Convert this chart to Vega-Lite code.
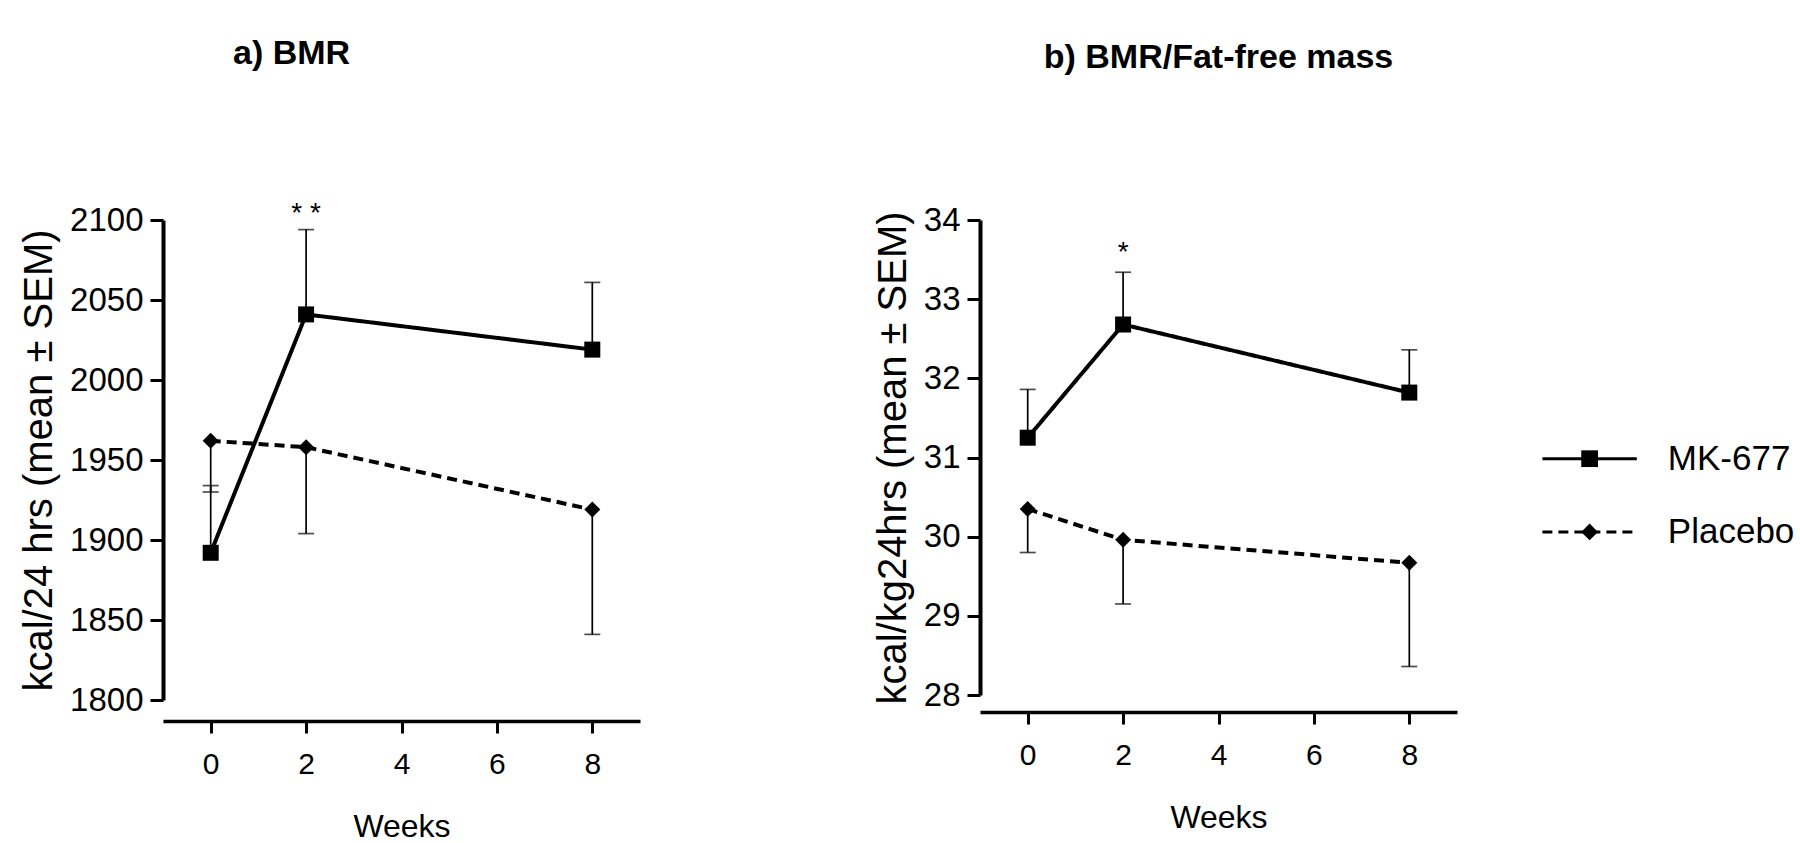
{
  "$schema": "https://vega.github.io/schema/vega-lite/v6.json",
  "background": "white",
  "padding": {"left": 19, "top": 36, "right": 0, "bottom": 0},
  "spacing": 233,
  "config": {
    "view": {"stroke": null},
    "axis": {"grid": false, "domainColor": "black", "tickColor": "black", "labelColor": "black", "titleColor": "black", "labelFont": "Liberation Sans", "titleFont": "Liberation Sans", "titleFontWeight": "normal"}
  },
  "datasets": {
    "bmr": [
      {"week": 0, "group": "MK-677", "mean": 1892, "err": 1934},
      {"week": 2, "group": "MK-677", "mean": 2041, "err": 2094},
      {"week": 8, "group": "MK-677", "mean": 2019, "err": 2061},
      {"week": 0, "group": "Placebo", "mean": 1962, "err": 1930},
      {"week": 2, "group": "Placebo", "mean": 1958, "err": 1904},
      {"week": 8, "group": "Placebo", "mean": 1919, "err": 1841}
    ],
    "ffm": [
      {"week": 0, "group": "MK-677", "mean": 31.25, "err": 31.86},
      {"week": 2, "group": "MK-677", "mean": 32.68, "err": 33.34},
      {"week": 8, "group": "MK-677", "mean": 31.82, "err": 32.36},
      {"week": 0, "group": "Placebo", "mean": 30.35, "err": 29.8},
      {"week": 2, "group": "Placebo", "mean": 29.96, "err": 29.15},
      {"week": 8, "group": "Placebo", "mean": 29.67, "err": 28.36}
    ],
    "sig_a": [{"week": 2, "value": 2099, "label": "* *"}],
    "sig_b": [{"week": 2, "value": 33.48, "label": "*"}],
    "groups": [{"group": "MK-677"}, {"group": "Placebo"}]
  },
  "hconcat": [
    {
      "width": 477,
      "height": 480,
      "title": {"text": "a) BMR", "anchor": "start", "frame": "group", "dx": 70, "offset": 129, "fontSize": 34, "font": "Liberation Sans", "fontWeight": "bold", "color": "black"},
      "data": {"name": "bmr"},
      "layer": [
        {
          "mark": {"type": "rule", "color": "black", "strokeWidth": 1.7},
          "encoding": {
            "x": {"field": "week", "type": "quantitative", "scale": {"domain": [-1, 9], "nice": false, "zero": false}, "axis": {"values": [0, 2, 4, 6, 8], "title": "Weeks", "offset": 21, "tickSize": 12, "tickWidth": 3, "domainWidth": 3.5, "labelFontSize": 30, "labelPadding": 16, "titleFontSize": 32, "titlePadding": 32, "labelFlush": false, "labelOverlap": false}},
            "y": {"field": "mean", "type": "quantitative", "scale": {"domain": [1800, 2100], "nice": false, "zero": false}, "axis": {"values": [1800, 1850, 1900, 1950, 2000, 2050, 2100], "format": "d", "title": "kcal/24 hrs  (mean ± SEM)", "tickSize": 13, "tickWidth": 3, "domainWidth": 4, "labelFontSize": 33, "labelPadding": 7, "titleFontSize": 40, "titlePadding": 10, "labelFlush": false, "labelOverlap": false}},
            "y2": {"field": "err"}
          }
        },
        {
          "mark": {"type": "tick", "orient": "horizontal", "color": "black", "size": 16, "thickness": 1.7},
          "encoding": {
            "x": {"field": "week", "type": "quantitative"},
            "y": {"field": "err", "type": "quantitative", "axis": {"values": [1800, 1850, 1900, 1950, 2000, 2050, 2100], "format": "d", "title": "kcal/24 hrs  (mean ± SEM)", "tickSize": 13, "tickWidth": 3, "domainWidth": 4, "labelFontSize": 33, "labelPadding": 7, "titleFontSize": 40, "titlePadding": 10, "labelFlush": false, "labelOverlap": false}}
          }
        },
        {
          "mark": {"type": "line", "color": "black", "strokeWidth": 4},
          "encoding": {
            "x": {"field": "week", "type": "quantitative"},
            "y": {"field": "mean", "type": "quantitative"},
            "strokeDash": {"field": "group", "type": "nominal", "scale": {"domain": ["MK-677", "Placebo"], "range": [[1, 0], [10, 6]]}, "legend": null}
          }
        },
        {
          "mark": {"type": "point", "filled": true, "color": "black", "opacity": 1, "size": 256},
          "encoding": {
            "x": {"field": "week", "type": "quantitative"},
            "y": {"field": "mean", "type": "quantitative"},
            "shape": {"field": "group", "type": "nominal", "scale": {"domain": ["MK-677", "Placebo"], "range": ["square", "diamond"]}, "legend": null}
          }
        },
        {
          "data": {"name": "sig_a"},
          "mark": {"type": "text", "fontSize": 28, "font": "Liberation Sans", "color": "black", "baseline": "alphabetic", "align": "center"},
          "encoding": {
            "x": {"field": "week", "type": "quantitative"},
            "y": {"field": "value", "type": "quantitative", "axis": {"values": [1800, 1850, 1900, 1950, 2000, 2050, 2100], "format": "d", "title": "kcal/24 hrs  (mean ± SEM)", "tickSize": 13, "tickWidth": 3, "domainWidth": 4, "labelFontSize": 33, "labelPadding": 7, "titleFontSize": 40, "titlePadding": 10, "labelFlush": false, "labelOverlap": false}},
            "text": {"field": "label"}
          }
        }
      ]
    },
    {
      "width": 477,
      "height": 475,
      "title": {"text": "b) BMR/Fat-free mass", "anchor": "middle", "frame": "group", "offset": 129, "fontSize": 34, "font": "Liberation Sans", "fontWeight": "bold", "color": "black"},
      "layer": [
        {
          "data": {"name": "ffm"},
          "mark": {"type": "rule", "color": "black", "strokeWidth": 1.7},
          "encoding": {
            "x": {"field": "week", "type": "quantitative", "scale": {"domain": [-1, 9], "nice": false, "zero": false}, "axis": {"values": [0, 2, 4, 6, 8], "title": "Weeks", "offset": 17, "tickSize": 12, "tickWidth": 3, "domainWidth": 3.5, "labelFontSize": 30, "labelPadding": 16, "titleFontSize": 32, "titlePadding": 32, "labelFlush": false, "labelOverlap": false}},
            "y": {"field": "mean", "type": "quantitative", "scale": {"domain": [28, 34], "nice": false, "zero": false}, "axis": {"values": [28, 29, 30, 31, 32, 33, 34], "format": "d", "title": "kcal/kg24hrs  (mean ± SEM)", "tickSize": 13, "tickWidth": 3, "domainWidth": 4, "labelFontSize": 33, "labelPadding": 7, "titleFontSize": 40, "titlePadding": 10, "labelFlush": false, "labelOverlap": false}},
            "y2": {"field": "err"}
          }
        },
        {
          "data": {"name": "ffm"},
          "mark": {"type": "tick", "orient": "horizontal", "color": "black", "size": 16, "thickness": 1.7},
          "encoding": {
            "x": {"field": "week", "type": "quantitative"},
            "y": {"field": "err", "type": "quantitative", "axis": {"values": [28, 29, 30, 31, 32, 33, 34], "format": "d", "title": "kcal/kg24hrs  (mean ± SEM)", "tickSize": 13, "tickWidth": 3, "domainWidth": 4, "labelFontSize": 33, "labelPadding": 7, "titleFontSize": 40, "titlePadding": 10, "labelFlush": false, "labelOverlap": false}}
          }
        },
        {
          "data": {"name": "ffm"},
          "mark": {"type": "line", "color": "black", "strokeWidth": 4},
          "encoding": {
            "x": {"field": "week", "type": "quantitative"},
            "y": {"field": "mean", "type": "quantitative"},
            "strokeDash": {"field": "group", "type": "nominal", "scale": {"domain": ["MK-677", "Placebo"], "range": [[1, 0], [10, 6]]}, "legend": null}
          }
        },
        {
          "data": {"name": "ffm"},
          "mark": {"type": "point", "filled": true, "color": "black", "opacity": 1, "size": 256},
          "encoding": {
            "x": {"field": "week", "type": "quantitative"},
            "y": {"field": "mean", "type": "quantitative"},
            "shape": {"field": "group", "type": "nominal", "scale": {"domain": ["MK-677", "Placebo"], "range": ["square", "diamond"]}, "legend": null}
          }
        },
        {
          "data": {"name": "sig_b"},
          "mark": {"type": "text", "fontSize": 28, "font": "Liberation Sans", "color": "black", "baseline": "alphabetic", "align": "center"},
          "encoding": {
            "x": {"field": "week", "type": "quantitative"},
            "y": {"field": "value", "type": "quantitative", "axis": {"values": [28, 29, 30, 31, 32, 33, 34], "format": "d", "title": "kcal/kg24hrs  (mean ± SEM)", "tickSize": 13, "tickWidth": 3, "domainWidth": 4, "labelFontSize": 33, "labelPadding": 7, "titleFontSize": 40, "titlePadding": 10, "labelFlush": false, "labelOverlap": false}},
            "text": {"field": "label"}
          }
        },
        {
          "data": {"name": "groups"},
          "transform": [{"filter": "datum.group === 'MK-677'"}],
          "layer": [
            {
              "mark": {"type": "rule", "color": "black", "strokeWidth": 3},
              "encoding": {
                "x": {"datum": 10.79, "type": "quantitative"},
                "x2": {"datum": 12.77},
                "y": {"datum": 30.985, "type": "quantitative"},
                "strokeDash": {"field": "group", "type": "nominal", "scale": {"domain": ["MK-677", "Placebo"], "range": [[1, 0], [10, 6]]}, "legend": null}
              }
            },
            {
              "mark": {"type": "point", "filled": true, "color": "black", "opacity": 1, "size": 280},
              "encoding": {
                "x": {"datum": 11.78, "type": "quantitative"},
                "y": {"datum": 30.985, "type": "quantitative"},
                "shape": {"field": "group", "type": "nominal", "scale": {"domain": ["MK-677", "Placebo"], "range": ["square", "diamond"]}, "legend": null}
              }
            },
            {
              "mark": {"type": "text", "fontSize": 35, "font": "Liberation Sans", "color": "black", "baseline": "middle", "align": "left"},
              "encoding": {
                "x": {"datum": 13.42, "type": "quantitative"},
                "y": {"datum": 30.985, "type": "quantitative"},
                "text": {"field": "group"}
              }
            }
          ]
        },
        {
          "data": {"name": "groups"},
          "transform": [{"filter": "datum.group === 'Placebo'"}],
          "layer": [
            {
              "mark": {"type": "rule", "color": "black", "strokeWidth": 3},
              "encoding": {
                "x": {"datum": 10.79, "type": "quantitative"},
                "x2": {"datum": 12.77},
                "y": {"datum": 30.06, "type": "quantitative"},
                "strokeDash": {"field": "group", "type": "nominal", "scale": {"domain": ["MK-677", "Placebo"], "range": [[1, 0], [10, 6]]}, "legend": null}
              }
            },
            {
              "mark": {"type": "point", "filled": true, "color": "black", "opacity": 1, "size": 280},
              "encoding": {
                "x": {"datum": 11.78, "type": "quantitative"},
                "y": {"datum": 30.06, "type": "quantitative"},
                "shape": {"field": "group", "type": "nominal", "scale": {"domain": ["MK-677", "Placebo"], "range": ["square", "diamond"]}, "legend": null}
              }
            },
            {
              "mark": {"type": "text", "fontSize": 35, "font": "Liberation Sans", "color": "black", "baseline": "middle", "align": "left"},
              "encoding": {
                "x": {"datum": 13.42, "type": "quantitative"},
                "y": {"datum": 30.06, "type": "quantitative"},
                "text": {"field": "group"}
              }
            }
          ]
        }
      ]
    }
  ]
}
